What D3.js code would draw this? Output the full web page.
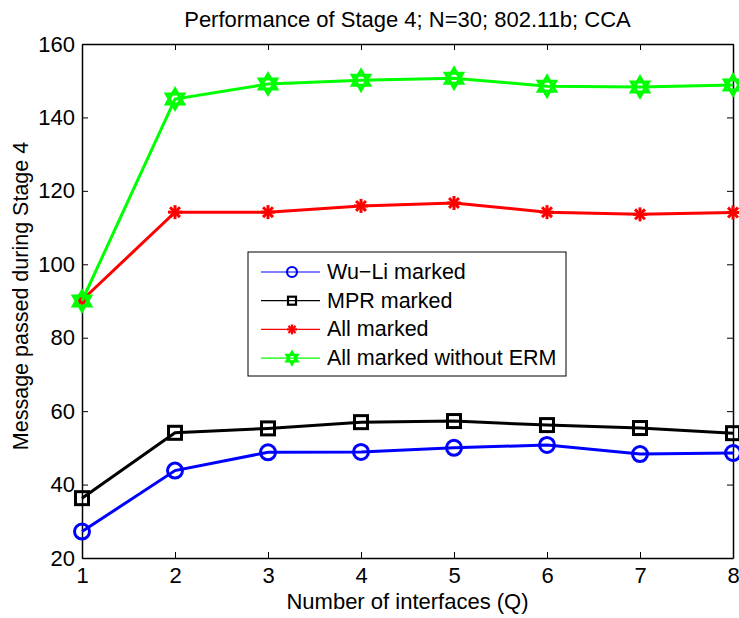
<!DOCTYPE HTML>
<html lang="en">
<head>
    <meta http-equiv="Content-Type" content="text/html; charset=utf-8">
    <title>Performance of Stage 4</title>
    <script src="https://cdn.jsdelivr.net/npm/d3@7"></script>
    <style type="text/css">
        html,body{margin:0;padding:0;background:#fff}
        svg{display:block;font-family:"Liberation Sans",Arial,sans-serif}
    </style>
</head>
<body>
<div id="svgWrap"></div>
<script type="text/javascript">
// data
var interfaces=[1,2,3,4,5,6,7,8];
var wuLi=[27.2,43.8,48.8,48.9,50.0,50.8,48.3,48.6];
var mpr=[36.3,54.1,55.3,57.0,57.3,56.2,55.4,54.0];
var allMarked=[90.2,114.2,114.2,115.9,116.7,114.2,113.6,114.1];
var allNoErm=[90.0,145.0,149.1,150.1,150.7,148.5,148.3,148.8];
var seriesNames=["Wu\u2212Li marked","MPR marked","All marked","All marked without ERM"];
var seriesColors=["#0000ff","#000000","#ff0000","#00ff00"];
var seriesMarkers=["circle","square","asterisk","hexagram"];
var yTicks=[20,40,60,80,100,120,140,160];

var W=739,H=618;
var m={top:44,right:6,bottom:60,left:82};
var width=W-m.left-m.right;
var height=H-m.top-m.bottom;

var svg=d3.select("#svgWrap").append("svg")
    .attr("width",W)
    .attr("height",H);
var g=svg.append("g")
    .attr("transform","translate("+m.left+","+m.top+")");

var xScale=d3.scaleLinear().domain([1,8]).range([0,width]);
var yScale=d3.scaleLinear().domain([20,160]).range([height,0]);

// axes with inward ticks, box style
var tick=-6;
g.append("g").attr("class","ax")
    .attr("transform","translate(0,"+height+")")
    .call(d3.axisBottom(xScale).tickValues(interfaces).tickFormat(d3.format("d")).tickSizeInner(tick).tickSizeOuter(0).tickPadding(9));
g.append("g").attr("class","ax")
    .call(d3.axisLeft(yScale).tickValues(yTicks).tickSizeInner(tick).tickSizeOuter(0).tickPadding(7));
g.append("g").attr("class","ax")
    .call(d3.axisTop(xScale).tickValues(interfaces).tickFormat("").tickSizeInner(tick).tickSizeOuter(0));
g.append("g").attr("class","ax")
    .attr("transform","translate("+width+",0)")
    .call(d3.axisRight(yScale).tickValues(yTicks).tickFormat("").tickSizeInner(tick).tickSizeOuter(0));
g.selectAll(".ax path").attr("stroke","#000").attr("stroke-width",1.5);
g.selectAll(".ax line").attr("stroke","#000").attr("stroke-width",1);
g.selectAll(".ax text").attr("font-size","22px").attr("fill","#000")
    .attr("font-family","'Liberation Sans',Arial,sans-serif");

// labels
svg.append("text")
    .attr("x",m.left+width/2).attr("y",27)
    .attr("text-anchor","middle").attr("font-size","22px")
    .text("Performance of Stage 4; N=30; 802.11b; CCA");
svg.append("text")
    .attr("x",m.left+width/2).attr("y",609)
    .attr("text-anchor","middle").attr("font-size","22px")
    .text("Number of interfaces (Q)");
svg.append("text")
    .attr("transform","translate(28,"+(m.top+height/2-5)+") rotate(-90)")
    .attr("text-anchor","middle").attr("font-size","21.5px")
    .text("Message passed during Stage 4");

// marker drawing
function drawMarker(sel,type,color,size,sw) {
    if(type=="circle") {
        sel.append("circle").attr("r",size).attr("fill","none")
            .attr("stroke",color).attr("stroke-width",sw);
    } else if(type=="square") {
        sel.append("rect").attr("x",-size).attr("y",-size)
            .attr("width",2*size).attr("height",2*size).attr("fill","none")
            .attr("stroke",color).attr("stroke-width",sw);
    } else if(type=="asterisk") {
        for(var a=0;a<4;a++) {
            var ang=a*Math.PI/4;
            sel.append("line")
                .attr("x1",-size*Math.cos(ang)).attr("y1",-size*Math.sin(ang))
                .attr("x2",size*Math.cos(ang)).attr("y2",size*Math.sin(ang))
                .attr("stroke",color).attr("stroke-width",sw);
        }
    } else if(type=="hexagram") {
        [0,Math.PI].forEach(function(off){
            var pts=[0,1,2].map(function(k){
                var ang=off-Math.PI/2+k*2*Math.PI/3;
                return [size*Math.cos(ang),size*Math.sin(ang)];
            });
            sel.append("path").attr("d","M"+pts.join("L")+"Z")
                .attr("fill","none").attr("stroke",color).attr("stroke-width",sw);
        });
    }
}

var allSeries=[wuLi,mpr,allMarked,allNoErm];
var line=d3.line()
    .x(function(d,i){return xScale(interfaces[i])})
    .y(function(d){return yScale(d)});

allSeries.forEach(function(vals,s){
    g.append("path")
        .datum(vals)
        .attr("fill","none")
        .attr("stroke",seriesColors[s])
        .attr("stroke-width",3)
        .attr("d",line);
    var sizes=[7.5,6.5,7,10];
    vals.forEach(function(v,i){
        var mk=g.append("g").attr("transform","translate("+xScale(interfaces[i])+","+yScale(v)+")");
        drawMarker(mk,seriesMarkers[s],seriesColors[s],sizes[s],3);
    });
});

// legend
var lg=svg.append("g").attr("transform","translate(248,252)");
lg.append("rect").attr("width",318).attr("height",124)
    .attr("fill","#fff").attr("stroke","#000").attr("stroke-width",1);
seriesNames.forEach(function(name,s){
    var y=20+s*28.7;
    lg.append("line").attr("x1",13).attr("x2",72).attr("y1",y).attr("y2",y)
        .attr("stroke",seriesColors[s]).attr("stroke-width",1.2);
    var mk=lg.append("g").attr("transform","translate(44,"+y+")");
    drawMarker(mk,seriesMarkers[s],seriesColors[s],[5,4,5,6.5][s],2.2);
    lg.append("text").attr("x",79).attr("y",y+7)
        .attr("font-size","21.5px").text(name);
});
</script>
</body>
</html>
